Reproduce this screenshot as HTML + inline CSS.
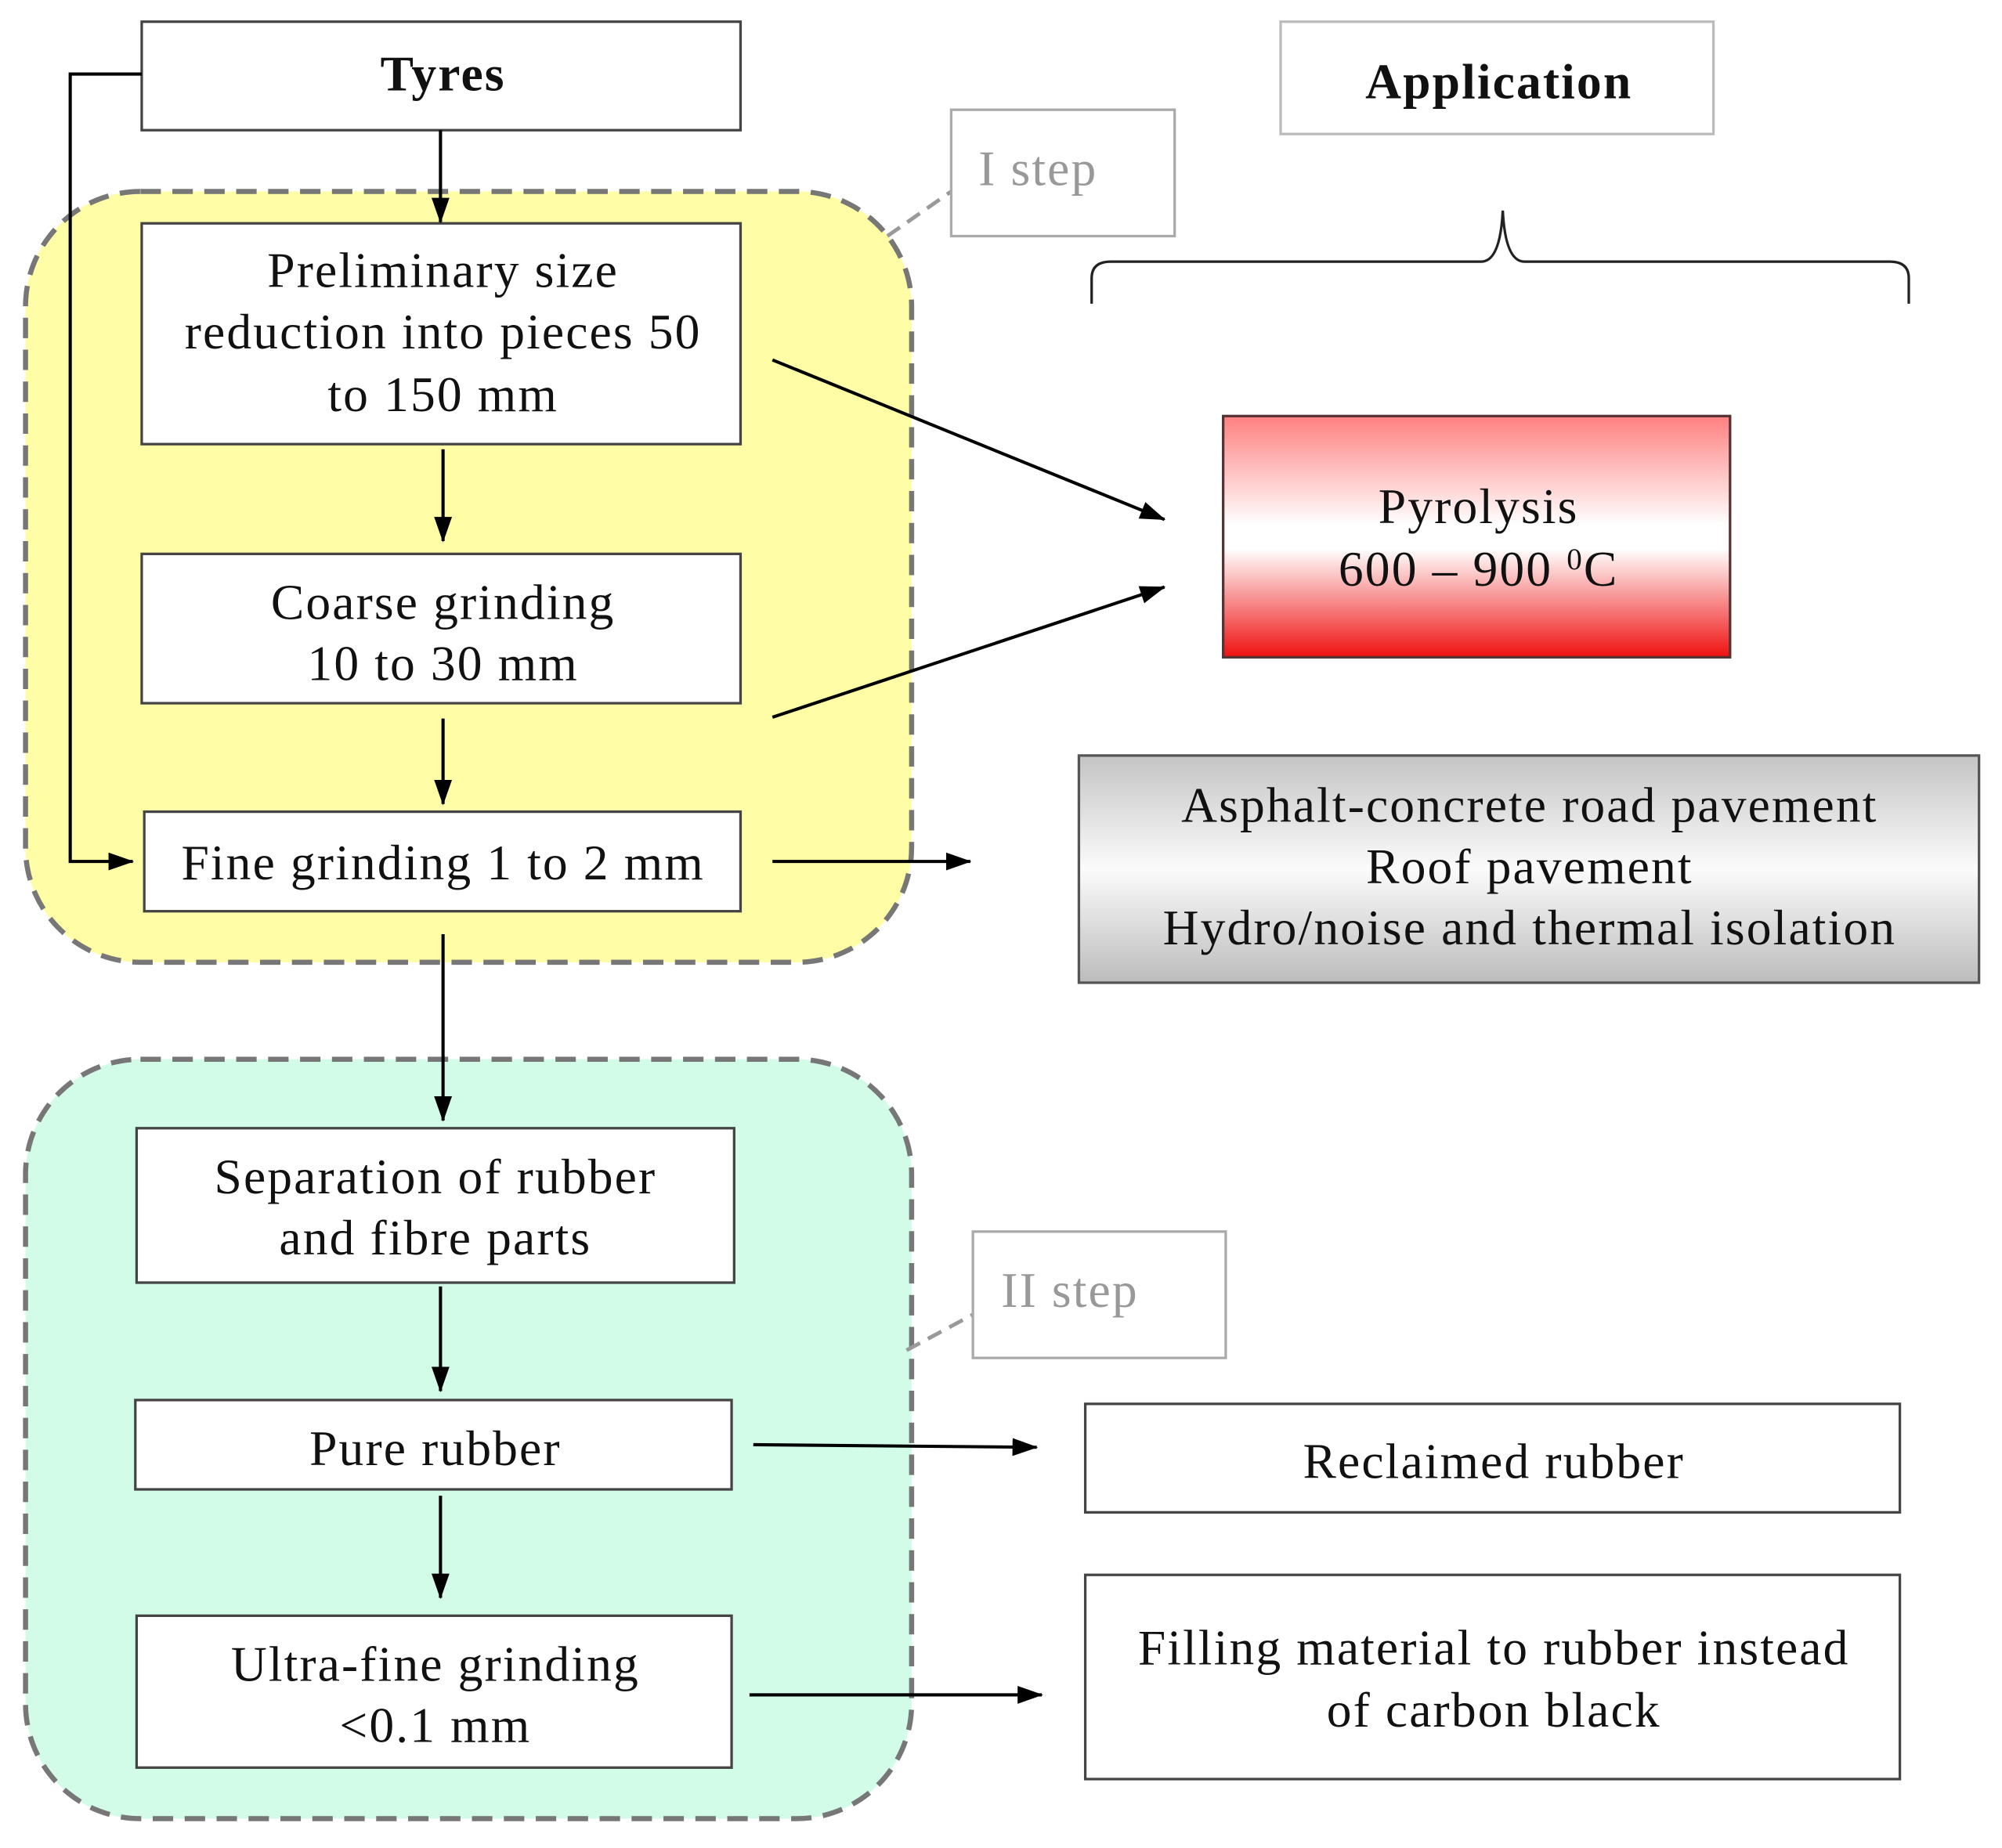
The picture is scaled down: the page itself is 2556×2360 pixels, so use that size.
<!DOCTYPE html>
<html><head><meta charset="utf-8"><style>
html,body{margin:0;padding:0;background:#fff;}
svg{display:block;}
text{font-family:"Liberation Serif",serif;font-size:39px;letter-spacing:1.3px;fill:#111;text-anchor:middle;}
</style></head><body>
<svg width="2556" height="2360" viewBox="0 0 1568 1448" preserveAspectRatio="none" xmlns="http://www.w3.org/2000/svg">
<defs>
<linearGradient id="red" x1="0" y1="0" x2="0" y2="1">
<stop offset="0" stop-color="#ff8080"/><stop offset="0.45" stop-color="#fff"/><stop offset="0.55" stop-color="#fff"/><stop offset="1" stop-color="#f01010"/>
</linearGradient>
<linearGradient id="gray" x1="0" y1="0" x2="0" y2="1">
<stop offset="0" stop-color="#c4c4c4"/><stop offset="0.5" stop-color="#fbfbfb"/><stop offset="1" stop-color="#bcbcbc"/>
</linearGradient>
<marker id="ah" markerWidth="20" markerHeight="16" refX="19" refY="8" orient="auto" markerUnits="userSpaceOnUse" viewBox="0 0 20 16">
<path d="M0,1 L20,8 L0,15 z" fill="#000"/></marker>
</defs>
<style>.ar{stroke:#000;stroke-width:2.5;fill:none;} </style>
<rect x="20" y="150" width="694" height="604" rx="90" fill="#fffea6" stroke="#777" stroke-width="4" stroke-dasharray="16,9"/>
<rect x="20" y="830" width="694" height="595" rx="90" fill="#d2fbe8" stroke="#777" stroke-width="4" stroke-dasharray="16,9"/>
<line x1="695" y1="185" x2="745" y2="150" stroke="#999" stroke-width="3" stroke-dasharray="12,7"/>
<rect x="745" y="86" width="175" height="99" fill="#fff" stroke="#aaa" stroke-width="2"/>
<text x="813" y="145" style="fill:#999">I step</text>
<line x1="710" y1="1058" x2="762" y2="1030" stroke="#999" stroke-width="3" stroke-dasharray="12,7"/>
<rect x="762" y="965" width="198" height="99" fill="#fff" stroke="#aaa" stroke-width="2"/>
<text x="838" y="1024" style="fill:#999">II step</text>
<g fill="#fff" stroke="#444" stroke-width="2">
<rect x="111" y="17" width="469" height="85"/>
<rect x="111" y="175" width="469" height="173"/>
<rect x="111" y="434" width="469" height="117"/>
<rect x="113" y="636" width="467" height="78"/>
<rect x="107" y="884" width="468" height="121"/>
<rect x="106" y="1097" width="467" height="70"/>
<rect x="107" y="1266" width="466" height="119"/>
<rect x="850" y="1100" width="638" height="85"/>
<rect x="850" y="1234" width="638" height="160"/>
</g>
<rect x="1003" y="17" width="339" height="88" fill="#fff" stroke="#bbb" stroke-width="2"/>
<rect x="958" y="326" width="397" height="189" fill="url(#red)" stroke="#533" stroke-width="2"/>
<rect x="845" y="592" width="705" height="178" fill="url(#gray)" stroke="#555" stroke-width="2"/>
<text x="347" y="71" style="font-weight:bold">Tyres</text>
<text x="1174" y="77" style="font-weight:bold">Application</text>
<text x="347" y="225">Preliminary size</text>
<text x="347" y="273">reduction into pieces 50</text>
<text x="347" y="322">to 150 mm</text>
<text x="347" y="485">Coarse grinding</text>
<text x="347" y="533">10 to 30 mm</text>
<text x="347" y="689">Fine grinding 1 to 2 mm</text>
<text x="341" y="935">Separation of rubber</text>
<text x="341" y="983">and fibre parts</text>
<text x="341" y="1148">Pure rubber</text>
<text x="341" y="1317">Ultra-fine grinding</text>
<text x="341" y="1365">&lt;0.1 mm</text>
<text x="1158" y="410">Pyrolysis</text>
<text x="1158" y="459">600 – 900 <tspan dy="-13" font-size="24">0</tspan><tspan dy="13">C</tspan></text>
<text x="1198" y="644">Asphalt-concrete road pavement</text>
<text x="1198" y="692">Roof pavement</text>
<text x="1198" y="740">Hydro/noise and thermal isolation</text>
<text x="1170" y="1158">Reclaimed rubber</text>
<text x="1170" y="1304">Filling material to rubber instead</text>
<text x="1170" y="1353">of carbon black</text>
<path d="M855,238 L855,218 Q855,205 870,205 L1160,205 Q1175,205 1177,165 Q1179,205 1194,205 L1480,205 Q1495,205 1495,218 L1495,238" fill="none" stroke="#222" stroke-width="2"/>
<path class="ar" d="M111,58 L55,58 L55,675 L104,675" marker-end="url(#ah)"/>
<line class="ar" x1="345" y1="102" x2="345" y2="174" marker-end="url(#ah)"/>
<line class="ar" x1="347" y1="352" x2="347" y2="424" marker-end="url(#ah)"/>
<line class="ar" x1="347" y1="563" x2="347" y2="630" marker-end="url(#ah)"/>
<line class="ar" x1="605" y1="675" x2="760" y2="675" marker-end="url(#ah)"/>
<line class="ar" x1="347" y1="732" x2="347" y2="878" marker-end="url(#ah)"/>
<line class="ar" x1="605" y1="282" x2="912" y2="407" marker-end="url(#ah)"/>
<line class="ar" x1="605" y1="562" x2="912" y2="460" marker-end="url(#ah)"/>
<line class="ar" x1="345" y1="1008" x2="345" y2="1090" marker-end="url(#ah)"/>
<line class="ar" x1="345" y1="1172" x2="345" y2="1252" marker-end="url(#ah)"/>
<line class="ar" x1="590" y1="1132" x2="812" y2="1134" marker-end="url(#ah)"/>
<line class="ar" x1="587" y1="1328" x2="816" y2="1328" marker-end="url(#ah)"/>
</svg>
</body></html>
